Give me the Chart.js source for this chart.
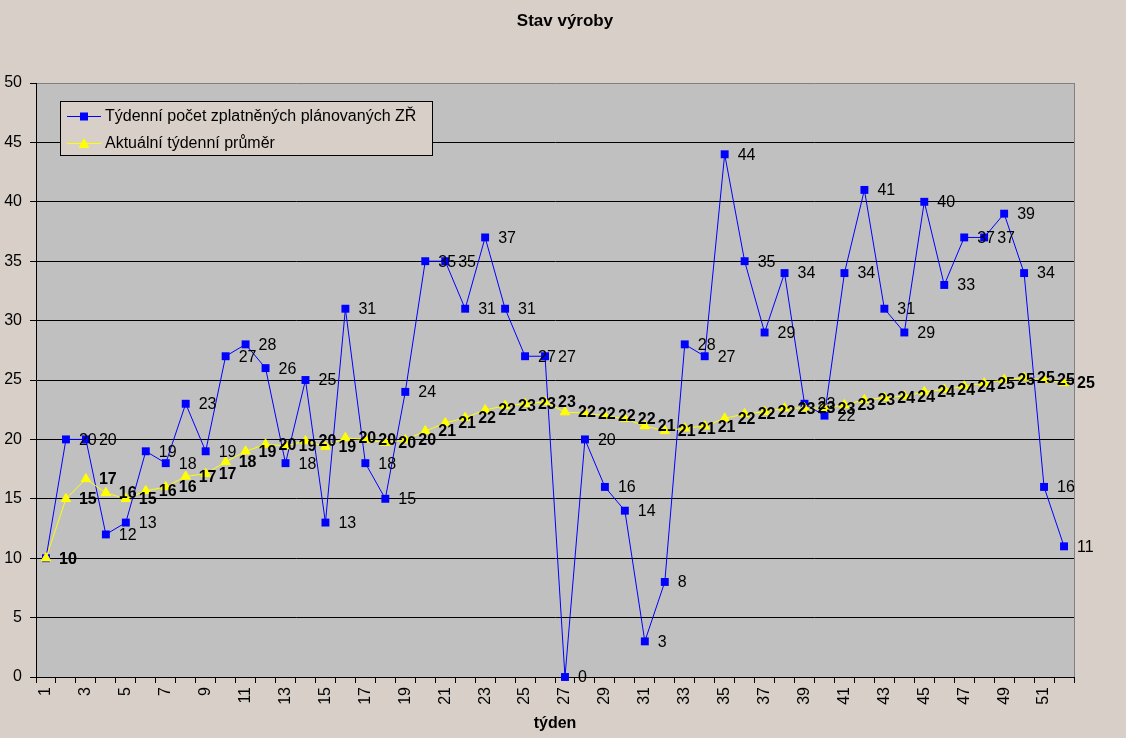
<!DOCTYPE html>
<html lang="cs">
<head>
<meta charset="UTF-8">
<title>Stav výroby</title>
<script src="https://cdn.jsdelivr.net/npm/chart.js"></script>
<style>
  html, body { margin: 0; padding: 0; background: #D8D0C8; }
  canvas { display: block; }
</style>
</head>
<body>
<canvas id="chart" width="1126" height="738"></canvas>
<script>
// data
const weeks = [1,2,3,4,5,6,7,8,9,10,11,12,13,14,15,16,17,18,19,20,21,22,23,24,25,26,
  27,28,29,30,31,32,33,34,35,36,37,38,39,40,41,42,43,44,45,46,47,48,49,50,51,52];
const weekly = [10,20,20,12,13,19,18,23,19,27,28,26,18,25,13,31,18,15,24,35,35,31,37,31,27,27,
  0,20,16,14,3,8,28,27,44,35,29,34,23,22,34,41,31,29,40,33,37,37,39,34,16,11];
const average = [10,15,16.67,15.5,15,15.67,16,16.88,17.11,18.1,19,19.58,19.46,19.86,19.4,20.13,20,19.72,19.95,20.7,
  21.38,21.82,22.48,22.83,23,23.15,22.3,22.21,22,21.73,21.13,20.72,20.94,21.12,21.77,22.14,22.32,22.63,22.64,22.63,
  22.9,23.33,23.51,23.64,24,24.2,24.47,24.73,25.02,25.2,25.02,24.75];

const FONT = 'Arial, "Liberation Sans", sans-serif';
const BG = '#D8D0C8';

// plot background, grey frame, title, legend
const frame = {
  id: 'frame',
  beforeDraw(chart) {
    const { ctx, chartArea: a } = chart;
    ctx.save();
    ctx.fillStyle = BG;
    ctx.fillRect(0, 0, chart.width, chart.height);
    ctx.fillStyle = '#C0C0C0';
    ctx.fillRect(a.left, a.top, a.right - a.left, a.bottom - a.top);
    ctx.restore();
  },
  afterDraw(chart) {
    const { ctx, chartArea: a } = chart;
    ctx.save();
    ctx.strokeStyle = '#808080';
    ctx.lineWidth = 1;
    ctx.beginPath();
    ctx.moveTo(a.right + 0.5, a.top);
    ctx.lineTo(a.right + 0.5, a.bottom);
    ctx.stroke();
    ctx.fillStyle = '#000';
    ctx.font = 'bold 17px ' + FONT;
    ctx.textAlign = 'center';
    ctx.textBaseline = 'middle';
    ctx.fillText('Stav výroby', 565, 21);

    // legend box
    const x = 60, y = 101, w = 372, h = 54;
    ctx.fillStyle = BG;
    ctx.fillRect(x, y, w, h);
    ctx.strokeStyle = '#000';
    ctx.strokeRect(x + 0.5, y + 0.5, w, h);
    ctx.font = '16px ' + FONT;
    ctx.textAlign = 'left';
    chart.data.datasets.forEach((ds, i) => {
      const cy = y + 15 + i * 27;
      ctx.strokeStyle = ds.borderColor;
      ctx.beginPath();
      ctx.moveTo(67, cy + 0.5);
      ctx.lineTo(101, cy + 0.5);
      ctx.stroke();
      ctx.fillStyle = ds.backgroundColor;
      ctx.beginPath();
      if (ds.pointStyle === 'rect') {
        ctx.rect(80, cy - 3.5, 8, 8);
      } else {
        ctx.moveTo(84, cy - 5);
        ctx.lineTo(89.5, cy + 5);
        ctx.lineTo(78.5, cy + 5);
        ctx.closePath();
      }
      ctx.fill();
      ctx.fillStyle = '#000';
      ctx.fillText(ds.label, 105, cy + 1);
    });
    ctx.restore();
  }
};

// value labels to the right of each point
const pointLabels = {
  id: 'pointLabels',
  afterDatasetsDraw(chart) {
    const ctx = chart.ctx;
    ctx.save();
    ctx.fillStyle = '#000';
    ctx.textAlign = 'left';
    ctx.textBaseline = 'middle';
    chart.data.datasets.forEach((ds, i) => {
      ctx.font = (ds.order === 1 ? 'bold ' : '') + '16px ' + FONT;
      chart.getDatasetMeta(i).data.forEach((pt, j) => {
        ctx.fillText(String(Math.round(ds.data[j])), pt.x + 13, pt.y + 1);
      });
    });
    ctx.restore();
  }
};

new Chart(document.getElementById('chart'), {
  type: 'line',
  data: {
    labels: weeks,
    datasets: [
      {
        label: 'Týdenní počet zplatněných plánovaných ZŘ',
        data: weekly,
        borderColor: '#0000FF',
        backgroundColor: '#0000FF',
        borderWidth: 1,
        pointStyle: 'rect',
        pointRadius: 5.6,
        pointBorderWidth: 0,
        tension: 0,
        clip: false,
        order: 2
      },
      {
        label: 'Aktuální týdenní průměr',
        data: average,
        borderColor: '#FFFF00',
        backgroundColor: '#FFFF00',
        borderWidth: 1,
        pointStyle: 'triangle',
        pointRadius: 5.5,
        pointBorderWidth: 1,
        tension: 0,
        clip: false,
        order: 1
      }
    ]
  },
  options: {
    responsive: false,
    animation: false,
    events: [],
    layout: { padding: { top: 83, right: 52, left: 0, bottom: 0 } },
    plugins: {
      legend: { display: false },
      title: { display: false },
      tooltip: { enabled: false }
    },
    scales: {
      x: {
        type: 'category',
        offset: true,
        grid: { offset: true, drawOnChartArea: false, color: '#000', tickLength: 6 },
        border: { color: '#000' },
        ticks: {
          autoSkip: false,
          maxRotation: 90,
          minRotation: 90,
          padding: 4,
          color: '#000',
          font: { family: FONT, size: 16 },
          callback: function (v, i) { return i % 2 === 0 ? this.getLabelForValue(v) : ''; }
        },
        title: {
          display: true,
          text: 'týden',
          color: '#000',
          font: { family: FONT, size: 16, weight: 'bold' },
          padding: { top: 0, bottom: 5 }
        },
        afterFit(s) { s.height = 61; }
      },
      y: {
        min: 0,
        max: 50,
        grid: {
          color: c => c.tick && c.tick.value === 50 ? '#808080' : '#000',
          tickColor: '#000',
          tickLength: 6
        },
        border: { color: '#000' },
        ticks: {
          stepSize: 5,
          padding: 8,
          color: '#000',
          font: { family: FONT, size: 16 }
        },
        afterFit(s) { s.width = 36; }
      }
    }
  },
  plugins: [frame, pointLabels]
});
</script>
</body>
</html>
